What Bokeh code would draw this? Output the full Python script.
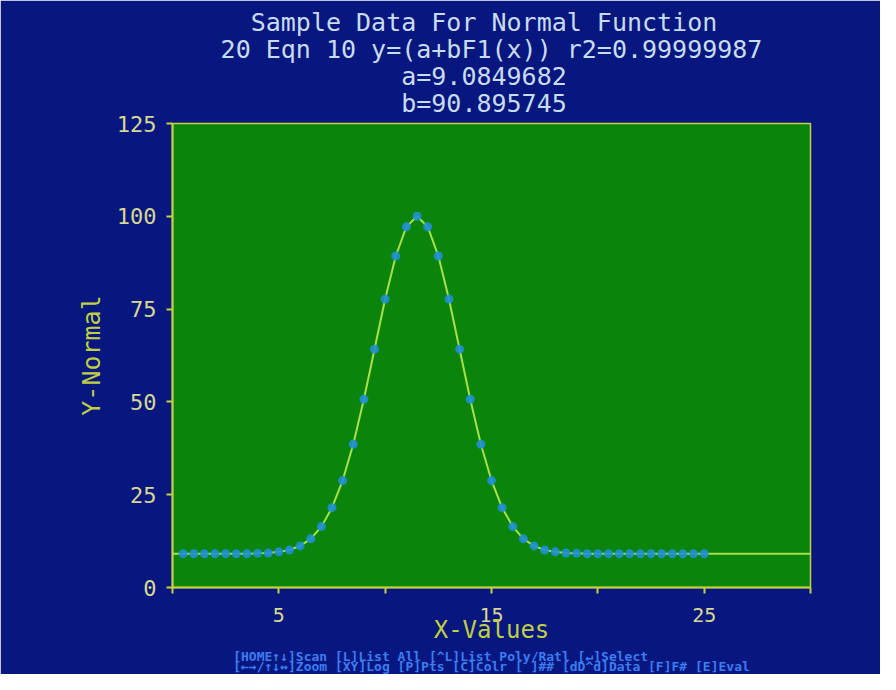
from bokeh.plotting import figure
from bokeh.models import Range1d, FixedTicker, Title
from bokeh.embed import file_html
from bokeh.resources import INLINE

# ---- data ----
x_values = [0.5, 1.0, 1.5, 2.0, 2.5, 3.0, 3.5, 4.0, 4.5, 5.0,
            5.5, 6.0, 6.5, 7.0, 7.5, 8.0, 8.5, 9.0, 9.5, 10.0,
            10.5, 11.0, 11.5, 12.0, 12.5, 13.0, 13.5, 14.0, 14.5, 15.0,
            15.5, 16.0, 16.5, 17.0, 17.5, 18.0, 18.5, 19.0, 19.5, 20.0,
            20.5, 21.0, 21.5, 22.0, 22.5, 23.0, 23.5, 24.0, 24.5, 25.0]
y_normal = [9.1, 9.1, 9.1, 9.1, 9.1, 9.1, 9.1, 9.2, 9.3, 9.6,
            10.1, 11.2, 13.1, 16.4, 21.5, 28.8, 38.6, 50.7, 64.2, 77.7,
            89.3, 97.2, 100.0, 97.2, 89.3, 77.7, 64.2, 50.7, 38.6, 28.8,
            21.5, 16.4, 13.1, 11.2, 10.1, 9.6, 9.3, 9.2, 9.1, 9.1,
            9.1, 9.1, 9.1, 9.1, 9.1, 9.1, 9.1, 9.1, 9.1, 9.1]
fit_a = 9.0849682
fit_b = 90.895745
fit_x_start = 0.0
fit_x_end = 30.0

x_ticks = [0, 5, 10, 15, 20, 25, 30]
x_tick_hidden = {0: "", 10: "", 20: "", 30: ""}
y_ticks = [0, 25, 50, 75, 100, 125]

title_lines = [
    "Sample Data For Normal Function",
    "20 Eqn 10 y=(a+bF1(x)) r2=0.99999987",
    "a=9.0849682",
    "b=90.895745",
]
help_lines = [
    "[HOME\u2191\u2193]Scan  [L]List All  [^L]List Poly/Ratl  [\u21b5]Select",
    "[\u2190\u2192/\u2191\u2193\u2194]Zoom [XY]Log [P]Pts [C]Colr [ ]## [dD^d]Data [F]F# [E]Eval",
]

# ---- styling ----
BG = "#081680"
PLOT_BG = "#0a840a"
AXIS = "#c8d040"
TICK_TXT = "#d8d890"
LABEL_TXT = "#c0d040"
TITLE_TXT = "#c8dcf0"
HELP_TXT = "#3a7ef0"
MONO = "DejaVu Sans Mono"
NBSP = "\u00a0"


def centered_block(lines):
    # pad lines of a monospaced block with no-break spaces so each is centred
    width = max(len(s) for s in lines)
    return "\n".join(NBSP * ((width - len(s)) // 2) + s for s in lines)


p = figure(width=880, height=674, output_backend="svg", toolbar_location=None,
           x_range=Range1d(0, 30), y_range=Range1d(0, 125),
           min_border_left=172, min_border_right=70,
           min_border_top=10, min_border_bottom=10)
p.title.visible = False
p.background_fill_color = PLOT_BG
p.border_fill_color = BG
p.outline_line_color = AXIS
p.outline_line_width = 1.5
p.xgrid.visible = False
p.ygrid.visible = False

for ax in (p.xaxis[0], p.yaxis[0]):
    ax.axis_line_color = AXIS
    ax.axis_line_width = 2
    ax.major_tick_line_color = AXIS
    ax.major_tick_line_width = 2
    ax.major_tick_out = 6
    ax.major_tick_in = 0
    ax.minor_tick_line_color = None
    ax.major_label_text_color = TICK_TXT
    ax.major_label_text_font = MONO
    ax.axis_label_text_color = LABEL_TXT
    ax.axis_label_text_font = MONO
    ax.axis_label_text_font_style = "normal"

p.xaxis.ticker = FixedTicker(ticks=x_ticks)
p.xaxis.major_label_overrides = x_tick_hidden
p.xaxis.major_label_text_font_size = "20px"
p.xaxis.major_label_standoff = 14
p.xaxis.axis_label = "X-Values"
p.xaxis.axis_label_text_font_size = "24px"
p.xaxis.axis_label_standoff = -9

p.yaxis.ticker = FixedTicker(ticks=y_ticks)
p.yaxis.major_label_text_font_size = "22px"
p.yaxis.major_label_standoff = 10
p.yaxis.axis_label = "Y-Normal"
p.yaxis.axis_label_text_font_size = "25px"
p.yaxis.axis_label_standoff = 8

# fitted curve (through the data, extended at the baseline a)
curve_x = [fit_x_start] + x_values + [fit_x_end]
curve_y = [fit_a] + y_normal + [fit_a]
p.line(curve_x, curve_y, line_color="#a8e048", line_width=2)

# data points
p.scatter(x_values, y_normal, size=9, fill_color="#1f8fd6", line_color=None,
          fill_alpha=0.9)

# title block above the frame
p.add_layout(Title(text=centered_block(title_lines), align="center",
                   text_color=TITLE_TXT, text_font=MONO,
                   text_font_size="25px", text_font_style="normal",
                   text_line_height=0.93, standoff=11), "above")

# help lines below the x axis
p.add_layout(Title(text="\n".join(help_lines), align="center",
                   text_color=HELP_TXT, text_font=MONO,
                   text_font_size="13px", text_font_style="bold",
                   text_line_height=0.72, standoff=0), "below")

open("out.html", "w").write(file_html(p, INLINE))
